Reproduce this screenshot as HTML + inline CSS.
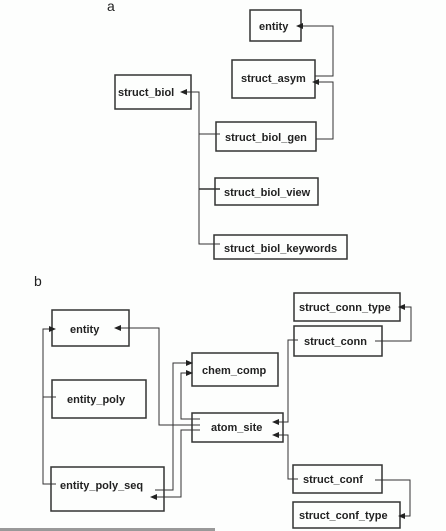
<!DOCTYPE html>
<html><head><style>
html,body{margin:0;padding:0;background:#fdfefd;}
svg{display:block}
text{font-family:"Liberation Sans",sans-serif;font-weight:bold;font-size:11px;fill:#222;}
.b{fill:#fdfefd;stroke:#333;stroke-width:1.5}
.l{fill:none;stroke:#333;stroke-width:1}
.a{fill:#222}
</style></head><body>
<svg width="446" height="531" viewBox="0 0 446 531">
<text x="107" y="11" style="font-weight:normal;font-size:14px">a</text>
<!-- top boxes -->
<rect class="b" x="250" y="10" width="51" height="31"/><text x="259" y="30">entity</text>
<rect class="b" x="232" y="60" width="83" height="38"/><text x="241" y="82">struct_asym</text>
<rect class="b" x="115" y="75" width="76" height="34"/><text x="118" y="96">struct_biol</text>
<rect class="b" x="216" y="122" width="100" height="29"/><text x="225" y="141">struct_biol_gen</text>
<rect class="b" x="215" y="178" width="103" height="27"/><text x="224" y="196">struct_biol_view</text>
<rect class="b" x="214" y="235" width="133" height="24"/><text x="224" y="252">struct_biol_keywords</text>
<!-- top connectors -->
<polyline class="l" points="315,76 333,76 333,26 302,26"/><polygon class="a" points="296,26 303,23 303,29"/>
<polyline class="l" points="316,139 333,139 333,82 318,82"/><polygon class="a" points="312,82 319,79 319,85"/>
<polyline class="l" points="185,92 199,92 199,244 220,244"/><polygon class="a" points="180,92 187,89 187,95"/>
<line class="l" x1="199" y1="134" x2="220" y2="134"/>
<line class="l" x1="199" y1="189" x2="220" y2="189" style="stroke-width:1.6"/>
<text x="34" y="286" style="font-weight:normal;font-size:14px">b</text>
<!-- bottom boxes -->
<rect class="b" x="52" y="310" width="77" height="36"/><text x="70" y="333">entity</text>
<rect class="b" x="52" y="380" width="94" height="38"/><text x="67" y="403">entity_poly</text>
<rect class="b" x="51" y="467" width="113" height="44"/><text x="60" y="489">entity_poly_seq</text>
<rect class="b" x="192" y="353" width="86" height="33"/><text x="202" y="374">chem_comp</text>
<rect class="b" x="192" y="413" width="91" height="29"/><text x="211" y="431">atom_site</text>
<rect class="b" x="294" y="293" width="106" height="28"/><text x="299" y="311">struct_conn_type</text>
<rect class="b" x="294" y="326" width="88" height="30"/><text x="304" y="345">struct_conn</text>
<rect class="b" x="293" y="465" width="89" height="28"/><text x="303" y="483">struct_conf</text>
<rect class="b" x="293" y="502" width="107" height="26"/><text x="299" y="519">struct_conf_type</text>
<!-- bottom connectors -->
<polyline class="l" points="56,484 43,484 43,329 50,329"/><polygon class="a" points="56,329 49,326 49,332"/>
<line class="l" x1="43" y1="397" x2="56" y2="397"/>
<polyline class="l" points="120,328 159,328 159,425 200,425"/><polygon class="a" points="114,328 121,325 121,331"/>
<polyline class="l" points="155,490 173,490 173,363 187,363"/><polygon class="a" points="193,363 186,360 186,366"/>
<polyline class="l" points="200,419 181,419 181,373 187,373"/><polygon class="a" points="193,373 186,370 186,376"/>
<polyline class="l" points="200,430 181,430 181,497 156,497"/><polygon class="a" points="150,497 157,494 157,500"/>
<polyline class="l" points="298,340 288,340 288,422 278,422"/><polygon class="a" points="272,422 279,419 279,425"/>
<polyline class="l" points="298,479 288,479 288,435 278,435"/><polygon class="a" points="272,435 279,432 279,438"/>
<polyline class="l" points="375,341 411,341 411,307 404,307"/><polygon class="a" points="398,307 405,304 405,310"/>
<polyline class="l" points="375,480 410,480 410,516 404,516"/><polygon class="a" points="398,516 405,513 405,519"/>
<rect x="0" y="528" width="215" height="3" fill="#999"/>
</svg>
</body></html>
